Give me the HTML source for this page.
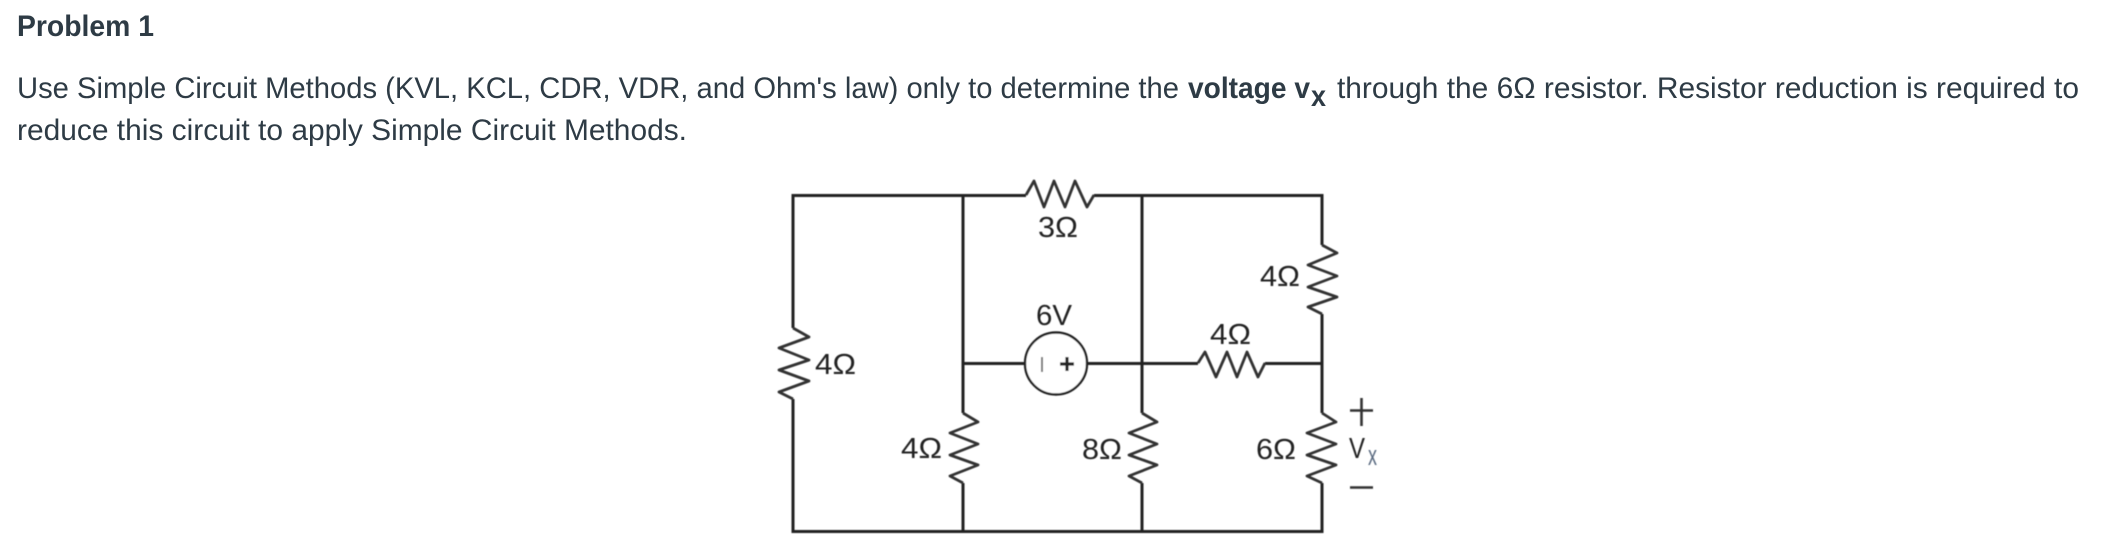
<!DOCTYPE html>
<html>
<head>
<meta charset="utf-8">
<style>
html,body{margin:0;padding:0;background:#fff;width:2104px;height:535px;overflow:hidden}
svg{display:block}
.t{font-family:"Liberation Sans",sans-serif;fill:#2d3b45;font-size:30px}
.c{font-family:"Liberation Sans",sans-serif;fill:#222;font-size:29px}
</style>
</head>
<body>
<svg width="2104" height="535" viewBox="0 0 2104 535" xmlns="http://www.w3.org/2000/svg">
<defs>
<filter id="b" x="-2%" y="-2%" width="104%" height="104%"><feGaussianBlur stdDeviation="0.6"/></filter>
<filter id="b2" x="-2%" y="-2%" width="104%" height="104%"><feGaussianBlur stdDeviation="0.35"/></filter>
</defs>
<g filter="url(#b2)">
<text class="t" x="17" y="36" font-weight="700" font-size="28" textLength="137" lengthAdjust="spacingAndGlyphs">Problem 1</text>
<text class="t" x="17" y="98" textLength="1162" lengthAdjust="spacingAndGlyphs">Use Simple Circuit Methods (KVL, KCL, CDR, VDR, and Ohm's law) only to determine the</text>
<text class="t" x="1188" y="98" font-weight="700" textLength="122" lengthAdjust="spacingAndGlyphs">voltage v</text>
<text class="t" x="1311" y="106" font-weight="700" font-size="25" textLength="15" lengthAdjust="spacingAndGlyphs">x</text>
<text class="t" x="1337" y="98" textLength="742" lengthAdjust="spacingAndGlyphs">through the 6Ω resistor. Resistor reduction is required to</text>
<text class="t" x="17" y="140" textLength="670" lengthAdjust="spacingAndGlyphs">reduce this circuit to apply Simple Circuit Methods.</text>
</g>
<g filter="url(#b)">
<g fill="none" stroke="#222" stroke-width="3">
<path d="M793 328V195.5H1026M1094 195.5H1322V245M1322 314V413M1322 483V531.5H793V399"/>
<path d="M963 195.5V413M963 483V531.5"/>
<path d="M1142 195.5V413M1142 483V531.5"/>
<path d="M963 363.5H1025M1087 363.5H1198M1265 363.5H1322"/>
</g>
<g fill="none" stroke="#333" stroke-width="2.8" stroke-linejoin="round">
<path d="M793 328L809 337L779 348L809 360L779 370L809 381L779 392L793 399"/>
<path d="M963 413L978 422L950 433L978 444L950 455L978 465L950 476L963 483"/>
<path d="M1142 413L1157 422L1129 433L1157 444L1129 455L1157 465L1129 476L1142 483"/>
<path d="M1322 413L1336 422L1307 433L1336 444L1307 455L1336 465L1307 476L1322 483"/>
<path d="M1322 245L1337 253L1308 265L1337 276L1308 287L1337 297L1308 307L1322 314"/>
<path d="M1026 195L1034 181L1044 207L1054 181L1065 207L1075 181L1087 207L1094 195"/>
<path d="M1198 363L1205 352L1216 377L1227 352L1237 377L1247 352L1258 377L1265 363"/>
</g>
<circle cx="1056" cy="363.5" r="31" fill="#fff" stroke="#222" stroke-width="2.4"/>
<path d="M1042 357V372" stroke="#777" stroke-width="2" fill="none"/>
<path d="M1060 364H1074M1067 357V371" stroke="#222" stroke-width="3.2" fill="none"/>
<text class="c" x="1038" y="237" textLength="40" lengthAdjust="spacingAndGlyphs">3Ω</text>
<text class="c" x="1036" y="325" textLength="36" lengthAdjust="spacingAndGlyphs">6V</text>
<text class="c" x="815" y="374" textLength="41" lengthAdjust="spacingAndGlyphs">4Ω</text>
<text class="c" x="901" y="458" textLength="41" lengthAdjust="spacingAndGlyphs">4Ω</text>
<text class="c" x="1082" y="459" textLength="40" lengthAdjust="spacingAndGlyphs">8Ω</text>
<text class="c" x="1256" y="459" textLength="40" lengthAdjust="spacingAndGlyphs">6Ω</text>
<text class="c" x="1260" y="286" textLength="40" lengthAdjust="spacingAndGlyphs">4Ω</text>
<text class="c" x="1210" y="344" textLength="41" lengthAdjust="spacingAndGlyphs">4Ω</text>
<text class="c" x="1349" y="458" textLength="16" lengthAdjust="spacingAndGlyphs">V</text>
<text class="c" x="1368" y="465" font-size="18" style="fill:#5a6a80" textLength="9" lengthAdjust="spacingAndGlyphs">x</text>
<path d="M1350 410.500H1373M1361.500 398V426M1350 487.500H1373" stroke="#333" stroke-width="2.6" fill="none"/>
</g>
</svg>
</body>
</html>
